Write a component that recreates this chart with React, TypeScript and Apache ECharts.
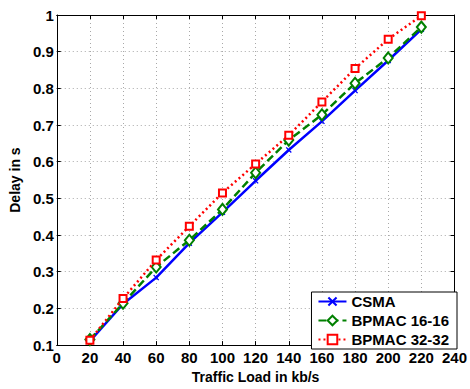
import React, { useEffect, useRef } from "react";
import * as echarts from "echarts";

const loads = [20, 40, 60, 80, 100, 120, 140, 160, 180, 200, 220];
const csma = [0.111, 0.212, 0.284, 0.378, 0.462, 0.548, 0.632, 0.71, 0.794, 0.876, 0.961];
const bpmac16 = [0.115, 0.214, 0.313, 0.386, 0.47, 0.57, 0.659, 0.728, 0.814, 0.883, 0.967];
const bpmac32 = [0.113, 0.227, 0.332, 0.424, 0.515, 0.594, 0.672, 0.763, 0.854, 0.934, 0.998];
const seriesNames = ["CSMA", "BPMAC 16-16", "BPMAC 32-32"];

const FONT = "'Liberation Sans', Arial, sans-serif";
const crossPath =
  "path://M0,1.5 L1.5,0 L5,3.5 L8.5,0 L10,1.5 L6.5,5 L10,8.5 L8.5,10 L5,6.5 L1.5,10 L0,8.5 L3.5,5 Z";

export default function App() {
  const ref = useRef<HTMLDivElement>(null);
  useEffect(() => {
    if (!ref.current) return;
    const chart = echarts.init(ref.current, undefined, { renderer: "svg" });
    const pair = (arr: number[]) => loads.map((x, i) => [x, arr[i]]);
    const grid = "#a8a8a8";
    const baseX = {
      type: "value",
      min: 0,
      max: 240,
      interval: 20,
      axisLine: { show: true, onZero: false, lineStyle: { color: "#000", width: 1 } },
      axisTick: { show: true, inside: true, length: 4, lineStyle: { color: "#000" } },
    };
    const baseY = {
      type: "value",
      min: 0.1,
      max: 1,
      interval: 0.1,
      axisLine: { show: true, onZero: false, lineStyle: { color: "#000", width: 1 } },
      axisTick: { show: true, inside: true, length: 4, lineStyle: { color: "#000" } },
    };
    chart.setOption({
      animation: false,
      backgroundColor: "#fff",
      grid: { left: 53, right: 13, top: 15, bottom: 36, containLabel: false },
      xAxis: [
        {
          ...baseX,
          position: "bottom",
          name: "Traffic Load in kb/s",
          nameLocation: "middle",
          nameGap: 23,
          nameTextStyle: { fontFamily: FONT, fontWeight: "bold", fontSize: 14, color: "#000" },
          axisLabel: { margin: 5, fontFamily: FONT, fontWeight: "bold", fontSize: 15, color: "#000" },
          splitLine: { show: true, lineStyle: { color: grid, type: [1, 3], width: 1 } },
        },
        {
          ...baseX,
          position: "top",
          axisLabel: { show: false },
          splitLine: { show: false },
        },
      ],
      yAxis: [
        {
          ...baseY,
          position: "left",
          name: "Delay in s",
          nameLocation: "middle",
          nameGap: 29,
          nameTextStyle: { fontFamily: FONT, fontWeight: "bold", fontSize: 14, color: "#000" },
          axisLabel: {
            margin: 3,
            fontFamily: FONT,
            fontWeight: "bold",
            fontSize: 15,
            color: "#000",
            formatter: (v: number) => String(+v.toFixed(1)),
          },
          splitLine: { show: true, lineStyle: { color: grid, type: [1, 3], width: 1 } },
        },
        {
          ...baseY,
          position: "right",
          axisLabel: { show: false },
          splitLine: { show: false },
        },
      ],
      legend: {
        orient: "vertical",
        right: 13,
        bottom: 40,
        data: seriesNames,
        backgroundColor: "#fff",
        borderColor: "#000",
        borderWidth: 1,
        padding: [2, 8, 2, 6],
        itemWidth: 28,
        itemHeight: 12,
        itemGap: 4,
        textStyle: { fontFamily: FONT, fontWeight: "bold", fontSize: 15, color: "#000", lineHeight: 15 },
      },
      series: [
        {
          name: seriesNames[0],
          type: "line",
          data: pair(csma),
          symbol: crossPath,
          symbolSize: 6,
          showAllSymbol: true,
          lineStyle: { color: "#0000ff", width: 2.5, type: "solid" },
          itemStyle: { color: "#0000ff", borderWidth: 0 },
          z: 2,
        },
        {
          name: seriesNames[1],
          type: "line",
          data: pair(bpmac16),
          symbol: "emptyDiamond",
          symbolSize: [9, 11],
          showAllSymbol: true,
          lineStyle: { color: "#008000", width: 2.5, type: [8, 4] },
          itemStyle: { color: "#008000", borderColor: "#008000", borderWidth: 2.5 },
          z: 3,
        },
        {
          name: seriesNames[2],
          type: "line",
          data: pair(bpmac32),
          symbol: "emptyRect",
          symbolSize: 7,
          showAllSymbol: true,
          lineStyle: { color: "#ff0000", width: 2.5, type: [2, 3] },
          itemStyle: { color: "#ff0000", borderColor: "#ff0000", borderWidth: 2.5 },
          z: 4,
        },
      ],
    });
    return () => chart.dispose();
  }, []);
  return (
    <div
      ref={ref}
      style={{ position: "fixed", left: 0, top: 0, width: 470, height: 389, background: "#fff" }}
    />
  );
}
